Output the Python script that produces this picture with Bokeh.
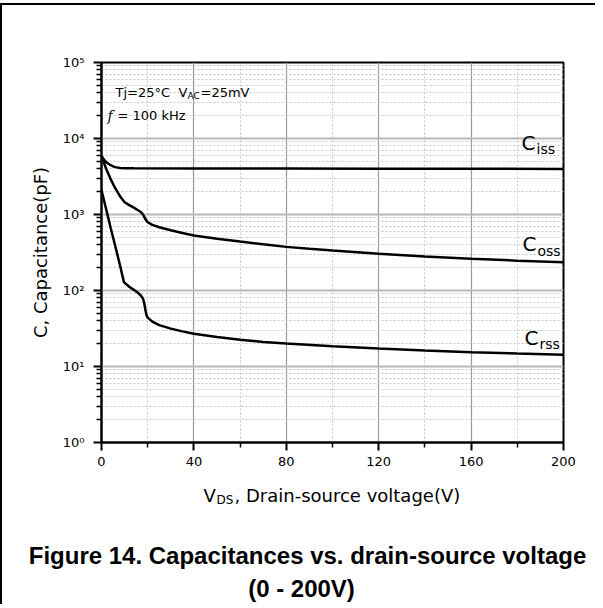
import numpy as np
from bokeh.plotting import figure
from bokeh.layouts import column
from bokeh.models import FixedTicker, Label, Range1d
from bokeh.core.properties import value
from bokeh.embed import file_html
from bokeh.resources import INLINE

# ---------------- data ----------------
vds_ciss = [0, 1, 2, 3, 4, 5, 6, 8, 10, 14, 40, 80, 120, 160, 200]
ciss = [5900, 5300, 4900, 4650, 4450, 4300, 4200, 4100, 4070, 4050, 4040, 4020, 4010, 3995, 3980]

vds_coss = [0, 2, 4, 6, 8, 10, 12, 14, 16, 17, 18, 19, 20, 22, 25, 30, 35, 40, 50, 60, 70, 80,
            90, 100, 120, 140, 160, 180, 200]
coss = [5900, 4000, 2900, 2200, 1740, 1450, 1330, 1230, 1130, 1080, 1000, 870, 790, 730, 680, 620,
        570, 530, 480, 440, 405, 375, 354, 336, 304, 280, 261, 247, 235]

vds_crss = [0, 2, 4, 6, 8, 9.7, 12, 14, 16, 17, 18, 18.5, 19, 19.5, 20, 22, 25, 30, 35, 40, 50, 60,
            70, 80, 100, 120, 140, 160, 180, 200]
crss = [2100, 1180, 660, 380, 215, 129, 112, 102, 92, 86, 78, 68, 56, 47, 44, 39, 35, 31.5, 29, 27,
        24.5, 22.5, 21, 20, 18.5, 17.2, 16.2, 15.4, 14.8, 14.3]

x_ticks = [0, 40, 80, 120, 160, 200]
x_minor = [20, 60, 100, 140, 180]
y_ticks = [1, 10, 100, 1000, 10000, 100000]
y_tick_labels = ["10\u2070", "10\u00b9", "10\u00b2", "10\u00b3", "10\u2074", "10\u2075"]

x_label_parts = ["V", "DS", ", Drain-source voltage(V)"]
caption_lines = ["Figure 14. Capacitances vs. drain-source voltage", "(0 - 200V)"]

FONT = "DejaVu Sans"

# page layout (pixels from the picture's top-left corner)
CX0, CY0 = 2, 5          # canvas origin of the chart (after border)
W = 595
FL, FR, FT, FB = 101, 563, 62, 442
P_BOTTOM = 472
PAGE_BOTTOM = 606

# ---------------- main chart ----------------
p = figure(width=W, height=P_BOTTOM - CY0, x_range=Range1d(0, 200), y_range=Range1d(1, 1e5),
           y_axis_type="log", output_backend="svg", toolbar_location=None,
           min_border_left=FL - CX0, min_border_right=CX0 + W - FR,
           min_border_top=FT - CY0, min_border_bottom=P_BOTTOM - FB)
p.styles = {"margin-top": "3px", "border-top": "2px solid black", "border-left": "2px solid black"}
p.background_fill_color = "white"
p.border_fill_color = "white"
p.outline_line_color = "black"
p.outline_line_width = 2

p.xaxis.ticker = FixedTicker(ticks=x_ticks, minor_ticks=x_minor)
minor_y = [k * 10 ** e for e in range(0, 5) for k in range(2, 10)]
p.yaxis.ticker = FixedTicker(ticks=y_ticks, minor_ticks=minor_y)
p.yaxis.major_label_overrides = {t: lab for t, lab in zip(y_ticks, y_tick_labels)}

for ax in (p.xaxis, p.yaxis):
    ax.axis_line_width = 2
    ax.axis_line_color = "black"
    ax.major_tick_line_width = 2
    ax.major_tick_line_color = "black"
    ax.minor_tick_line_width = 1.5
    ax.minor_tick_line_color = "black"
    ax.major_tick_out = 8
    ax.major_tick_in = 0
    ax.minor_tick_out = 5
    ax.minor_tick_in = 0
    ax.major_label_text_font = FONT
    ax.major_label_text_color = "black"
    ax.major_label_text_font_size = "13px"

p.xaxis.major_label_standoff = 6
p.yaxis.major_label_standoff = 9

p.yaxis.axis_label = "C, Capacitance(pF)"
p.yaxis.axis_label_text_font = FONT
p.yaxis.axis_label_text_font_style = "normal"
p.yaxis.axis_label_text_font_size = "18px"
p.yaxis.axis_label_text_color = "black"
p.yaxis.axis_label_standoff = 9

p.xgrid.grid_line_color = "#9a9a9a"
p.xgrid.grid_line_width = 1.2
p.xgrid.minor_grid_line_color = "#c8c8c8"
p.xgrid.minor_grid_line_dash = "2 2"
p.ygrid.grid_line_color = "#b8b8b8"
p.ygrid.grid_line_width = 1.8
p.ygrid.minor_grid_line_color = "#c8c8c8"
p.ygrid.minor_grid_line_dash = "2 2"

p.line(vds_ciss, ciss, line_color="black", line_width=2.5)
p.line(vds_coss, coss, line_color="black", line_width=2.5)
p.line(vds_crss, crss, line_color="black", line_width=2.5)


def dx(px):
    return (px - FL) / (FR - FL) * 200.0


def dy(py):
    return 10 ** ((FB - py) / (FB - FT) * 5.0)


def lab(px, py, text, size, font=FONT, style="normal"):
    p.add_layout(Label(x=dx(px), y=dy(py), text=text, text_font=font,
                       text_font_size=size, text_font_style=style, text_align="left",
                       text_baseline="alphabetic", text_color="black"))


lab(115, 92, "Tj=25\u00b0C", "13px")
lab(178, 92, "V", "13px")
lab(187, 95, "AC", "9px")
lab(200, 92, "=25mV", "13px")
lab(107, 115, "f", "14px", font="DejaVu Serif", style="italic")
lab(117, 115, "= 100 kHz", "13px")

lab(521, 142, "C", "20px")
lab(536, 148, "iss", "14px")
lab(522, 243, "C", "20px")
lab(537, 250, "oss", "14px")
lab(524, 337, "C", "20px")
lab(539, 343, "rss", "14px")

# ---------------- caption strip below (page pixel coordinates) ----------------
q = figure(width=W, height=PAGE_BOTTOM - P_BOTTOM, x_range=Range1d(CX0, CX0 + W),
           y_range=Range1d(PAGE_BOTTOM, P_BOTTOM),
           output_backend="svg", toolbar_location=None, x_axis_location=None,
           y_axis_location=None, min_border=0)
if "frame_align" in q.properties():
    q.frame_align = False
q.styles = {"border-left": "2px solid black"}
q.grid.visible = False
q.outline_line_color = None
q.background_fill_color = "white"
q.border_fill_color = "white"


def qtext(px, py, text, size, font=FONT, style="normal", align="left"):
    q.text(x=[px], y=[py], text=[text], text_font=value(font), text_font_size=size,
           text_font_style=style, text_baseline="alphabetic", text_align=align,
           text_color="black")


qtext(203, 497, x_label_parts[0], "18px")
qtext(216, 501, x_label_parts[1], "12px")
qtext(234, 497, x_label_parts[2], "18px")

qtext(307, 557, caption_lines[0], "24px", font="Liberation Sans", style="bold", align="center")
qtext(301, 590, caption_lines[1], "24px", font="Liberation Sans", style="bold", align="center")

layout = column(p, q, spacing=0)
open("out.html", "w").write(file_html(layout, INLINE))
